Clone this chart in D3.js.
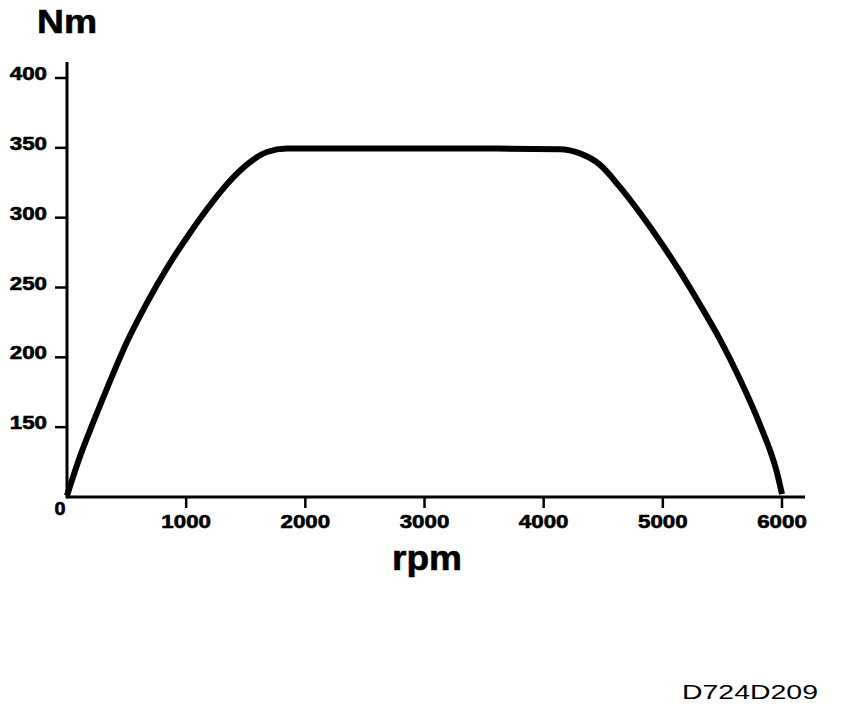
<!DOCTYPE html>
<html>
<head>
<meta charset="utf-8">
<script src="https://cdn.jsdelivr.net/npm/d3@7"></script>
<style>
  html, body { margin: 0; padding: 0; background: #fff; }
  svg { display: block; }
  text { font-family: Arial, "Liberation Sans", Helvetica, sans-serif; fill: #000; }
  text.heavy { stroke: #000; stroke-width: 0.6px; }
</style>
</head>
<body>
<svg id="chart" width="864" height="720"></svg>
<script>
// ---- data ----
const rpm    = [0, 109, 218, 361, 503, 671, 839, 1007, 1174, 1342, 1510, 1678, 1846, 2500, 3000, 3500, 4136, 4304, 4471, 4639, 4807, 4975, 5143, 5310, 5478, 5646, 5814, 5956, 6000];
const torque = [101, 129, 153, 183, 211, 239, 264, 286, 306, 324, 338, 347, 349.5, 349.5, 349.5, 349.5, 349, 346, 338, 322, 303.5, 283.3, 261.5, 238, 213, 184.5, 152, 118, 102];
const xTicks = [1000, 2000, 3000, 4000, 5000, 6000];
const yTicks = [150, 200, 250, 300, 350, 400];
const yTitle = "Nm";
const xTitle = "rpm";
const code = "D724D209";

// ---- layout ----
const svg = d3.select("#chart");
const x = d3.scaleLinear().domain([0, 6000]).range([67, 782]);
const y = d3.scaleLinear().domain([100, 400]).range([497, 78]);
const xMax = x.invert(805);
const yMax = y.invert(62);

// axis lines
svg.append("line").attr("x1", x(0)).attr("x2", x(xMax)).attr("y1", y(100)).attr("y2", y(100))
  .attr("stroke", "#000").attr("stroke-width", 3);
svg.append("line").attr("x1", x(0)).attr("x2", x(0)).attr("y1", y(100) + 1.5).attr("y2", y(yMax))
  .attr("stroke", "#000").attr("stroke-width", 3);

// x ticks
const gx = svg.append("g");
gx.selectAll("line").data(xTicks).join("line")
  .attr("x1", d => x(d)).attr("x2", d => x(d))
  .attr("y1", y(100)).attr("y2", y(100) + 11)
  .attr("stroke", "#000").attr("stroke-width", 2.5);
gx.selectAll("text").data(xTicks).join("text")
  .attr("class", "heavy")
  .attr("x", d => x(d)).attr("y", 528)
  .attr("text-anchor", "middle")
  .attr("font-size", 18).attr("font-weight", "bold")
  .attr("textLength", d => String(d).length * 12.4)
  .attr("lengthAdjust", "spacingAndGlyphs")
  .text(d => d);
svg.append("text").attr("class", "heavy").attr("x", 60).attr("y", 515).attr("text-anchor", "middle")
  .attr("font-size", 18).attr("font-weight", "bold")
  .attr("textLength", 11).attr("lengthAdjust", "spacingAndGlyphs").text("0");

// y ticks
const gy = svg.append("g");
gy.selectAll("line").data(yTicks).join("line")
  .attr("x1", x(0) - 12).attr("x2", x(0))
  .attr("y1", d => y(d)).attr("y2", d => y(d))
  .attr("stroke", "#000").attr("stroke-width", 2.5);
gy.selectAll("text").data(yTicks).join("text")
  .attr("class", "heavy")
  .attr("x", 47).attr("y", d => y(d) + 2)
  .attr("text-anchor", "end")
  .attr("font-size", 18).attr("font-weight", "bold")
  .attr("textLength", d => String(d).length * 12.4)
  .attr("lengthAdjust", "spacingAndGlyphs")
  .text(d => d);

// curve
const pts = rpm.map((r, i) => [r, torque[i]]);
const line = d3.line().x(d => x(d[0])).y(d => y(d[1])).curve(d3.curveMonotoneX);
svg.append("path").datum(pts).attr("d", line)
  .attr("fill", "none").attr("stroke", "#000").attr("stroke-width", 6)
  .attr("stroke-linecap", "butt").attr("stroke-linejoin", "round");

// titles
svg.append("text").attr("class", "heavy").attr("x", 37).attr("y", 33)
  .attr("font-size", 33).attr("font-weight", "bold")
  .attr("textLength", 60).attr("lengthAdjust", "spacingAndGlyphs")
  .text(yTitle);
svg.append("text").attr("class", "heavy").attr("x", 427).attr("y", 570).attr("text-anchor", "middle")
  .attr("font-size", 35).attr("font-weight", "bold")
  .attr("textLength", 70).attr("lengthAdjust", "spacingAndGlyphs")
  .text(xTitle);
svg.append("text").attr("x", 682).attr("y", 699)
  .attr("font-size", 20)
  .attr("textLength", 136).attr("lengthAdjust", "spacingAndGlyphs")
  .text(code);
</script>
</body>
</html>
